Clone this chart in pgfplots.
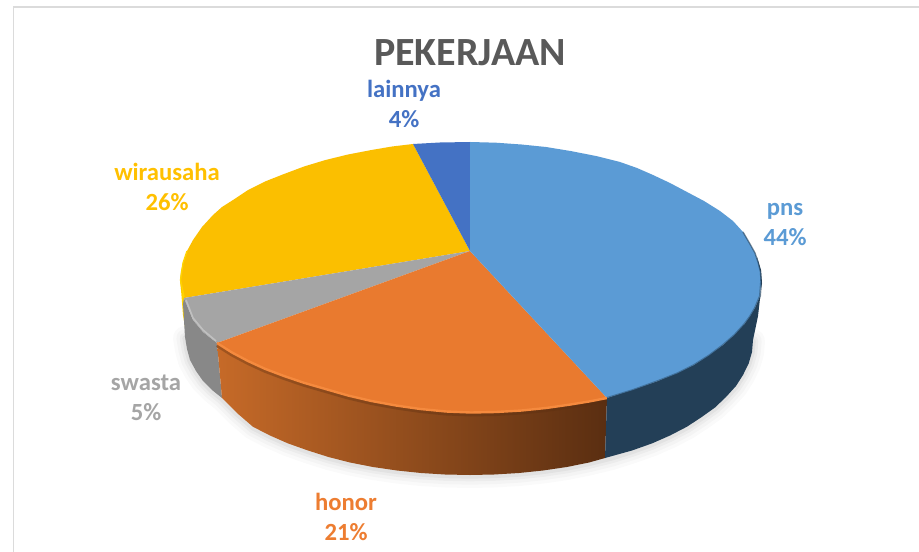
\documentclass[border=0pt]{standalone}
\usepackage{pgfplots}
\pgfplotsset{compat=1.18}
\usepackage{pgfplotstable}
\usepackage{fontspec}
\setmainfont{Carlito}
\definecolor{cpns}{HTML}{5B9BD5}
\definecolor{cpnsside}{HTML}{233F57}
\definecolor{chonor}{HTML}{ED7D31}
\definecolor{chonortop}{HTML}{E97A2F}
\definecolor{chonorhi}{HTML}{F58A3E}
\definecolor{chonorL}{HTML}{C66A28}
\definecolor{chonorR}{HTML}{5A2E11}
\definecolor{cswasta}{HTML}{A5A5A5}
\definecolor{cswastaside}{HTML}{888888}
\definecolor{cwira}{HTML}{FBBF00}
\definecolor{cwiraside}{HTML}{FFD400}
\definecolor{cwiratext}{HTML}{FFC000}
\definecolor{clain}{HTML}{4472C4}
\definecolor{ctitle}{HTML}{595959}
\tikzset{lab/.style={align=center, font=\fontsize{18.5}{22.5}\selectfont\bfseries}}
% outlines in reference pixels
\pgfplotstableread{
x y
753 340
752 352
748.7 363.4
743 375
736 386
726 397
715 407.5
701 417.5
686.8 426.8
670 435.5
652 443.4
632 450.5
611.5 457
589 462.5
566.8 467
543 470.5
519 473
494 474.5
470 475
445 474.5
421 473
397 470.5
373 467
350 462.5
328.5 457
308 450.5
288 443.4
270 435.5
253 426.8
237 413
222 398
212 390
203 381
196 371
190 360
187 349
185 337
}\bottomrim
\pgfplotstableread{
x y
607 398
589 401.5
570.5 404.5
546 408
521.5 410.5
496 412
471 412.5
446 411.5
420.5 409
396 405.5
371.5 401
348 395.5
325.5 389
304 382.8
284 376
265 368.8
248 361
232 352.5
217 343
}\orangerim
\pgfplotstableread{
x y
761 283
760 296
755 308
750 316.5
744.5 324
734.5 335
723 345
709 355.5
694 365
677 373.5
658 381
633 390
607 398
}\bluerim
\begin{document}
\begin{tikzpicture}
\useasboundingbox (0,0) rectangle (689.25pt,414pt);
\fill[white] (0,0) rectangle (689.25pt,414pt);
\begin{axis}[
  at={(0,0)}, anchor=south west,
  scale only axis, width=689.25pt, height=414pt,
  xmin=0, xmax=919, ymin=0, ymax=552, y dir=reverse,
  hide axis, clip=false,
]
% frame
\addplot[draw=black!14, line width=1.2pt] coordinates {(13.5,552)(13.5,7)(919,7)};
% shadow
\addplot[draw=black, opacity=.02, line width=18pt, line join=round, line cap=round] table[x=x, y expr=\thisrow{y}+1] {\bottomrim};
\addplot[draw=black, opacity=.025, line width=13pt, line join=round, line cap=round] table[x=x, y expr=\thisrow{y}+1] {\bottomrim};
\addplot[draw=black, opacity=.03, line width=8pt, line join=round, line cap=round] table[x=x, y expr=\thisrow{y}+1] {\bottomrim};
\addplot[draw=black, opacity=.04, line width=4pt, line join=round, line cap=round] table[x=x, y expr=\thisrow{y}+1] {\bottomrim};
% sides
\addplot[fill=cwiraside, draw=none] coordinates {(180,277)(184,298)(188,345)(183,315)} -- cycle;
\addplot[fill=cswastaside, draw=none] coordinates {(217,343)(203,332)(193,320)(184,298)(183,304)(185,337)(187,349)(190,360)(196,371)(203,381)(212,390)(222,398)} -- cycle;
\addplot[left color=chonorL, right color=chonorR, draw=none] coordinates {(607,398)(589,401.5)(570.5,404.5)(546,408)(521.5,410.5)(496,412)(471,412.5)(446,411.5)(420.5,409)(396,405.5)(371.5,401)(348,395.5)(325.5,389)(304,382.8)(284,376)(265,368.8)(248,361)(232,352.5)(217,343)(222,398)(237,413)(253,426.8)(270,435.5)(288,443.4)(308,450.5)(328.5,457)(350,462.5)(373,467)(397,470.5)(421,473)(445,474.5)(470,475)(494,474.5)(519,473)(543,470.5)(566.8,467)(589,462.5)(605,458)} -- cycle;
\addplot[fill=cpnsside, draw=none] coordinates {(757,257)(761,270)(762,283)(760,296)(755,308)(744.5,324)(723,345)(694,365)(658,381)(607,398)(605,458)(632,450.5)(652,443.4)(670,435.5)(686.8,426.8)(701,417.5)(715,407.5)(726,397)(736,386)(743,375)(748.7,363.4)(752,352)(753,340)(758,316)(761,290)} -- cycle;
% top faces
\addplot[fill=cwira, draw=none] coordinates {(470,251)(184,298)(181,289)(180,280)(181,271)(183,263)(187,251)(193,240)(202,227)(213,215)(222,207)(233,200)(248,190)(265,181.5)(284,174)(304,166.5)(325.5,160)(348,154.5)(371.5,150)(392,146.5)(413,144)} -- cycle;
\addplot[fill=cswasta, draw=none] coordinates {(470,251)(217,343)(203,332)(193,320)(184,298)} -- cycle;
\addplot[fill=clain, draw=none] coordinates {(470,251)(413,144)(440,142.5)(470,142)} -- cycle;
\addplot[fill=chonortop, draw=none] table {\orangerim} -- (axis cs:470,251) -- cycle;
\addplot[fill=cpns, draw=none] coordinates {(470,251)(470,142)(496,142.7)(521.5,144.5)(546,147)(570.5,151)(596,156)(620,162)(637,168)(653,175)(670,183)(687,192)(704,201)(720,211)(733,221)(743,232)(750,244)(755,253)(758,262)(760.5,272)(761,283)(760,296)(755,308)(750,316.5)(744.5,324)(734.5,335)(723,345)(709,355.5)(694,365)(677,373.5)(658,381)(633,390)(607,398)} -- cycle;
% bevel at the rim
\addplot[draw=cwiraside, line width=1pt, line join=round] coordinates {(187,251)(183,263)(180.5,280)(184,297)};
\addplot[draw=cswasta!70!white, line width=1.2pt, line join=round] coordinates {(186,300)(193,318)(203,330)(216,341)};
\addplot[draw=chonorR, opacity=.35, line width=3pt, line join=round] table[x=x, y expr=\thisrow{y}+2] {\orangerim};
\addplot[draw=chonorhi, line width=1.8pt, line join=round] table {\orangerim};
\addplot[draw=cpnsside, opacity=.45, line width=1.5pt, line join=round] table {\bluerim};
\addplot[draw=cpnsside, opacity=.6, line width=1pt, line join=round] coordinates {(743,232)(750,244)(755,253)(758,262)(760.5,272)(761,283)};
% text
\node[text=ctitle, font=\fontsize{30}{32}\selectfont\bfseries] at (axis cs:470,53) {PEKERJAAN};
\node[lab, text=clain] at (axis cs:404,104) {lainnya\\4\%};
\node[lab, text=cwiratext] at (axis cs:167,187) {wirausaha\\26\%};
\node[lab, text=cpns] at (axis cs:785,225) {pns\\44\%};
\node[lab, text=cswasta] at (axis cs:146,398) {swasta\\5\%};
\node[lab, text=chonor] at (axis cs:346,517) {honor\\21\%};
\end{axis}
\end{tikzpicture}
\end{document}
